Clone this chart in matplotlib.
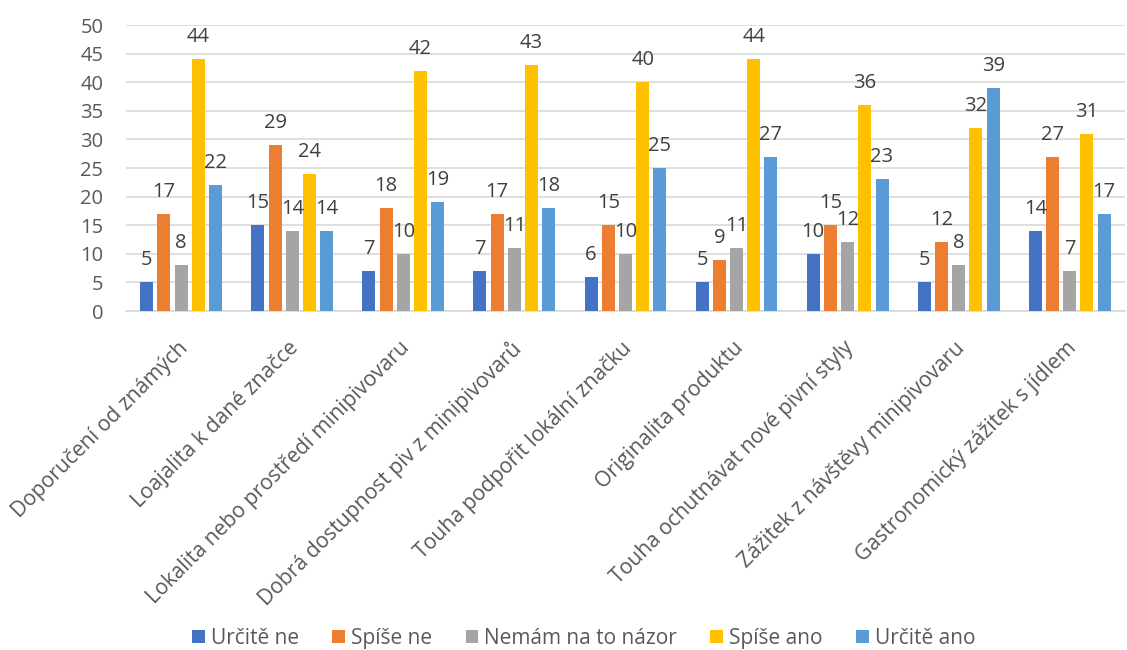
import matplotlib
matplotlib.use("Agg")
import matplotlib.pyplot as plt
import matplotlib.transforms as mtransforms
import numpy as np

categories = [
    "Doporučení od známých",
    "Loajalita k dané značce",
    "Lokalita nebo prostředí minipivovaru",
    "Dobrá dostupnost piv z minipivovarů",
    "Touha podpořit lokální značku",
    "Originalita produktu",
    "Touha ochutnávat nové pivní styly",
    "Zážitek z návštěvy minipivovaru",
    "Gastronomický zážitek s jídlem",
]
series_names = ["Určitě ne", "Spíše ne", "Nemám na to názor", "Spíše ano", "Určitě ano"]
urcite_ne = [5, 15, 7, 7, 6, 5, 10, 5, 14]
spise_ne = [17, 29, 18, 17, 15, 9, 15, 12, 27]
nemam_nazor = [8, 14, 10, 11, 10, 11, 12, 8, 7]
spise_ano = [44, 24, 42, 43, 40, 44, 36, 32, 31]
urcite_ano = [22, 14, 19, 18, 25, 27, 23, 39, 17]
y_ticks = [0, 5, 10, 15, 20, 25, 30, 35, 40, 45, 50]

series = [urcite_ne, spise_ne, nemam_nazor, spise_ano, urcite_ano]
colors = ["#4472C4", "#ED7D31", "#A5A5A5", "#FFC000", "#5B9BD5"]

plt.rcParams["font.family"] = ["Open Sans", "DejaVu Sans"]
text_color = "#595959"

fig = plt.figure(figsize=(11.27, 6.5), dpi=100)
ax = fig.add_axes([0.1115, 0.5215, 0.887, 0.44])

x = np.arange(len(categories))
pitch = 0.155
width = 0.117
for i, (vals, name, col) in enumerate(zip(series, series_names, colors)):
    pos = x + (i - 2) * pitch
    ax.bar(pos, vals, width=width, color=col, label=name, zorder=3)
    for xp, v in zip(pos, vals):
        ax.annotate(str(v), (xp, v), xytext=(0, 12), textcoords="offset pixels",
                    ha="center", va="bottom", fontsize=14.5, color="#404040", zorder=4)

ax.set_xlim(-0.5, len(categories) - 0.5)
ax.set_ylim(0, 50)
ax.set_yticks(y_ticks)
ax.tick_params(axis="y", length=0, labelsize=14.5, labelcolor=text_color, pad=16)
ax.yaxis.grid(True, color="#D9D9D9", linewidth=1.2, zorder=0)
ax.set_axisbelow(True)
for s in ["top", "right", "left"]:
    ax.spines[s].set_visible(False)
ax.spines["bottom"].set_color("#D9D9D9")
ax.spines["bottom"].set_linewidth(1.2)

ax.set_xticks(x)
ax.set_xticklabels(categories, rotation=45, ha="right", va="top",
                   rotation_mode="anchor", fontsize=15.2, color=text_color)
ax.tick_params(axis="x", length=0, pad=14)
shift = mtransforms.ScaledTranslation(-4 / 100, -7 / 100, fig.dpi_scale_trans)
for lbl in ax.get_xticklabels():
    lbl.set_transform(lbl.get_transform() + shift)

leg = fig.legend(loc="center", bbox_to_anchor=(0.518, 0.018), ncol=5,
                 frameon=False, fontsize=15, handlelength=0.6, handleheight=0.6,
                 handletextpad=0.3, columnspacing=1.6)
for t in leg.get_texts():
    t.set_color(text_color)

fig.savefig("out.png", dpi=100)
